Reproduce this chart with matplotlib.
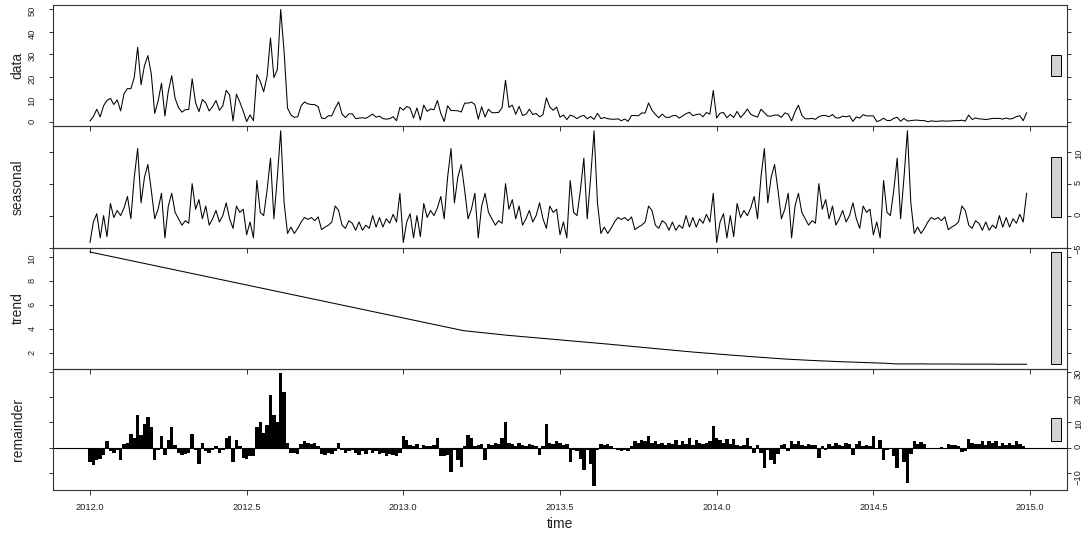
"""STL decomposition panels (data / seasonal / trend / remainder), R plot.stl look."""
import numpy as np
import matplotlib
matplotlib.use("Agg")
import matplotlib.pyplot as plt
from matplotlib.patches import Rectangle

plt.rcParams["font.family"] = ["Liberation Sans", "DejaVu Sans"]

# series sampled every 4 days (92 steps per year), starting 2012.0
start_year = 2012.0
steps_per_year = 92

# one year of the periodic seasonal component (repeats each year)
seasonal_year = [
    -4.2, -1.0, 0.3, -3.5, 0.0, -3.3, 1.9, -0.3, 0.8, 0.0,
    1.2, 3.0, -0.5, 6.0, 10.5, 2.0, 6.0, 8.0, 4.0, -0.5,
    1.0, 3.5, -3.5, 1.5, 3.5, 0.5, -0.5, -1.5, -0.8, -1.2,
    5.0, 1.0, 2.5, -0.5, 1.5, -1.5, -0.5, 0.8, -1.0, 0.0,
    2.0, -0.5, -2.0, 1.5, 0.5, 1.0, -3.0, -1.0, -3.5, 5.5,
    0.5, 0.0, 4.0, 9.0, -0.5, 6.0, 13.3, 2.0, -2.8, -1.8,
    -2.8, -2.0, -1.0, -0.3, -0.6, -0.3, -0.8, -0.2, -2.2, -1.8,
    -1.5, -1.0, 1.5, 0.8, -1.5, -2.0, -0.8, -1.2, -2.3, -1.0,
    -2.3, -1.5, -2.0, 0.0, -1.8, -0.3, -1.8, -0.5, -1.2, 0.2,
    -1.0, 3.5,
]

trend = [
    10.45, 10.39, 10.33, 10.27, 10.21, 10.15, 10.09, 10.03, 9.97, 9.91,
    9.85, 9.79, 9.73, 9.67, 9.61, 9.55, 9.49, 9.43, 9.37, 9.31,
    9.25, 9.19, 9.13, 9.07, 9.01, 8.95, 8.89, 8.83, 8.77, 8.71,
    8.65, 8.59, 8.53, 8.47, 8.41, 8.35, 8.29, 8.23, 8.17, 8.11,
    8.05, 7.99, 7.93, 7.87, 7.81, 7.75, 7.69, 7.63, 7.57, 7.51,
    7.45, 7.39, 7.33, 7.27, 7.21, 7.15, 7.09, 7.03, 6.97, 6.91,
    6.85, 6.79, 6.73, 6.67, 6.61, 6.55, 6.49, 6.43, 6.37, 6.31,
    6.25, 6.19, 6.13, 6.07, 6.01, 5.95, 5.89, 5.83, 5.77, 5.71,
    5.65, 5.59, 5.53, 5.47, 5.41, 5.35, 5.29, 5.23, 5.17, 5.11,
    5.05, 4.99, 4.93, 4.87, 4.81, 4.75, 4.69, 4.63, 4.57, 4.51,
    4.45, 4.39, 4.33, 4.27, 4.21, 4.15, 4.09, 4.03, 3.97, 3.91,
    3.86, 3.83, 3.80, 3.77, 3.74, 3.71, 3.68, 3.65, 3.62, 3.59,
    3.56, 3.53, 3.50, 3.47, 3.45, 3.42, 3.40, 3.37, 3.35, 3.32,
    3.30, 3.27, 3.25, 3.22, 3.20, 3.17, 3.15, 3.12, 3.10, 3.07,
    3.05, 3.02, 3.00, 2.97, 2.95, 2.92, 2.90, 2.87, 2.85, 2.82,
    2.80, 2.77, 2.75, 2.72, 2.69, 2.67, 2.64, 2.61, 2.59, 2.56,
    2.53, 2.51, 2.48, 2.45, 2.43, 2.40, 2.37, 2.35, 2.32, 2.29,
    2.27, 2.24, 2.21, 2.19, 2.16, 2.13, 2.11, 2.08, 2.06, 2.04,
    2.01, 1.99, 1.97, 1.95, 1.92, 1.90, 1.88, 1.86, 1.83, 1.81,
    1.79, 1.77, 1.75, 1.72, 1.70, 1.68, 1.66, 1.64, 1.62, 1.60,
    1.58, 1.56, 1.54, 1.52, 1.50, 1.48, 1.47, 1.45, 1.44, 1.42,
    1.41, 1.39, 1.38, 1.37, 1.35, 1.34, 1.33, 1.32, 1.30, 1.29,
    1.28, 1.27, 1.26, 1.25, 1.24, 1.23, 1.22, 1.21, 1.20, 1.19,
    1.18, 1.17, 1.16, 1.15, 1.14, 1.12, 1.10, 1.09, 1.09, 1.09,
    1.09, 1.09, 1.09, 1.09, 1.09, 1.09, 1.08, 1.08, 1.08, 1.08,
    1.08, 1.08, 1.08, 1.08, 1.08, 1.08, 1.07, 1.07, 1.07, 1.07,
    1.07, 1.07, 1.07, 1.07, 1.07, 1.07, 1.06, 1.06, 1.06, 1.06,
    1.06, 1.06, 1.06, 1.06, 1.06, 1.06,
]

remainder = [
    -5.8, -7.0, -5.0, -4.5, -3.0, 2.7, -1.5, -2.0, -1.0, -5.0,
    1.5, 2.0, 5.5, 4.0, 13.0, 5.0, 9.5, 12.0, 8.0, -5.0,
    -1.0, 4.5, -3.0, 3.0, 8.0, 1.0, -2.0, -3.0, -2.5, -2.0,
    5.5, -1.0, -6.5, 2.0, -1.5, -2.0, -1.0, 0.5, -2.0, -1.0,
    4.0, 4.5, -5.5, 3.0, 0.5, -4.0, -4.5, -3.5, -3.5, 8.0,
    10.0, 6.0, 9.0, 21.0, 13.0, 10.0, 29.5, 22.0, 2.0, -2.0,
    -2.0, -2.5, 1.5, 2.5, 2.0, 1.5, 2.0, 0.5, -2.5, -3.0,
    -2.0, -2.5, -1.5, 2.0, -1.0, -2.0, -1.5, -1.0, -2.0, -3.0,
    -1.5, -2.5, -1.0, -2.0, -1.5, -2.5, -2.0, -3.5, -2.5, -3.0,
    -3.5, -2.0, 4.5, 3.0, 1.0, 0.5, 1.5, -0.5, 1.0, 0.5,
    0.5, 1.0, 4.0, -3.5, -3.5, -3.0, -9.5, -1.0, -5.0, -7.5,
    0.5, 5.0, 4.0, 0.5, 1.0, 1.5, -5.0, 1.5, 1.0, 2.0,
    1.5, 4.0, 10.0, 2.0, 1.5, 0.5, 2.0, 1.0, 0.5, 1.5,
    1.0, 0.5, -3.0, 0.5, 9.5, 2.0, 1.5, 2.5, 2.0, 1.0,
    1.5, -5.5, -1.0, -1.5, -4.5, -9.0, -1.0, -6.5, -15.0, -1.0,
    1.5, 1.0, 1.5, 0.5, -0.5, -1.0, -1.5, -1.0, -1.5, 0.5,
    2.5, 2.0, 3.0, 2.5, 4.5, 2.0, 2.5, 1.5, 2.0, 1.0,
    2.0, 1.5, 3.0, 1.0, 2.5, 1.5, 4.0, 1.0, 3.0, 2.0,
    1.5, 2.0, 2.5, 8.5, 4.0, 3.0, 2.0, 3.5, 1.5, 3.5,
    1.0, 0.5, 1.0, 4.0, 0.5, -2.0, 1.0, -2.0, -8.0, -1.0,
    -5.0, -6.5, -2.5, 1.0, 1.5, -1.5, 2.5, 1.5, 2.5, 1.0,
    0.5, 1.5, 1.0, 1.0, -4.0, 0.5, -1.0, 1.5, 0.5, 2.0,
    1.0, 0.5, 2.0, 1.5, -3.0, 1.5, 2.5, 0.5, 1.0, 0.5,
    4.5, 0.0, 3.0, -5.0, -1.0, -0.5, -3.5, -8.0, -0.3, -5.5,
    -14.0, -2.5, 2.5, 1.5, 2.3, 1.5, 0.0, -0.3, -0.2, -0.5,
    0.2, -0.5, 1.5, 1.2, 1.0, 0.5, -1.8, -1.5, 3.5, 2.0,
    1.5, 1.5, 2.5, 1.0, 2.5, 2.0, 2.5, 0.5, 2.0, 1.0,
    2.0, 1.0, 2.5, 1.5, 0.5, -0.5,
]

x_ticks = [2012.0, 2012.5, 2013.0, 2013.5, 2014.0, 2014.5, 2015.0]
data_ticks = [0, 10, 20, 30, 40, 50]
seasonal_ticks = [-5, 0, 5, 10]
trend_ticks = [2, 4, 6, 8, 10]
remainder_ticks = [-10, 0, 10, 20, 30]


def main():
    n_years = len(trend) // steps_per_year
    seasonal = np.tile(np.array(seasonal_year), n_years)
    tr = np.array(trend)
    rem = np.array(remainder)
    data = seasonal + tr + rem  # stl identity
    t = start_year + np.arange(len(tr)) / steps_per_year

    panels = [
        ("data", data, data_ticks, False),
        ("seasonal", seasonal, seasonal_ticks, True),
        ("trend", tr, trend_ticks, False),
        ("remainder", rem, remainder_ticks, True),
    ]
    bar_h = min(np.ptp(v) for _, v, _, _ in panels)

    W, H = 1091, 537
    left_px, right_px, top_px, bottom_px = 53, 1067, 5, 490
    ph = (bottom_px - top_px) / len(panels)
    x_lo, x_hi = t[0] - 0.118, t[0] + 3.118
    ink = "#222222"

    fig = plt.figure(figsize=(W / 100, H / 100), dpi=100)
    for j, (name, vals, yt, right_side) in enumerate(panels):
        y0 = top_px + j * ph
        ax = fig.add_axes([left_px / W, 1 - (y0 + ph) / H,
                           (right_px - left_px) / W, ph / H])
        ax.set_facecolor("none")
        if name == "remainder":
            ax.bar(t, vals, width=1.0 / steps_per_year, color="black", linewidth=0)
            ax.axhline(0, color="black", lw=0.8)
        else:
            ax.plot(t, vals, color="black", lw=0.75)

        lo, hi = vals.min(), vals.max()
        pad = 0.04 * (hi - lo)
        ax.set_ylim(lo - pad, hi + pad)
        ax.set_xlim(x_lo, x_hi)

        # grey range bar at the right edge (same data height in every panel)
        dx = (x_hi - x_lo) / 64
        mid = (lo + hi) / 2
        ax.add_patch(Rectangle((x_hi - dx, mid - bar_h / 2), 0.6 * dx, bar_h,
                               facecolor="#d3d3d3", edgecolor="black", lw=0.7,
                               clip_on=False))

        ax.set_xticks(x_ticks)
        ax.set_xticklabels([f"{v:.1f}" for v in x_ticks])
        ax.tick_params(axis="x", bottom=True, top=False, labelbottom=(j == len(panels) - 1),
                       direction="out", length=3.5, width=0.7, labelsize=6.7, pad=6,
                       colors="#333333", labelcolor=ink)
        ax.set_yticks(yt)
        ax.tick_params(axis="y", left=True, right=True,
                       labelleft=not right_side, labelright=right_side,
                       direction="out", length=3, width=0.7, labelsize=6.7,
                       labelrotation=90, pad=(2 if right_side else 9),
                       colors="#333333", labelcolor=ink)
        for sp in ax.spines.values():
            sp.set_color("#333333")
            sp.set_linewidth(0.8)

        ax.set_ylabel(name, fontsize=10, color=ink)
        ax.yaxis.set_label_coords(-0.028, 0.5)
        if j == len(panels) - 1:
            ax.set_xlabel("time", fontsize=10, color=ink)
            ax.xaxis.set_label_coords(0.5, -0.22)

    fig.savefig("out.png", dpi=100)


if __name__ == "__main__":
    main()
